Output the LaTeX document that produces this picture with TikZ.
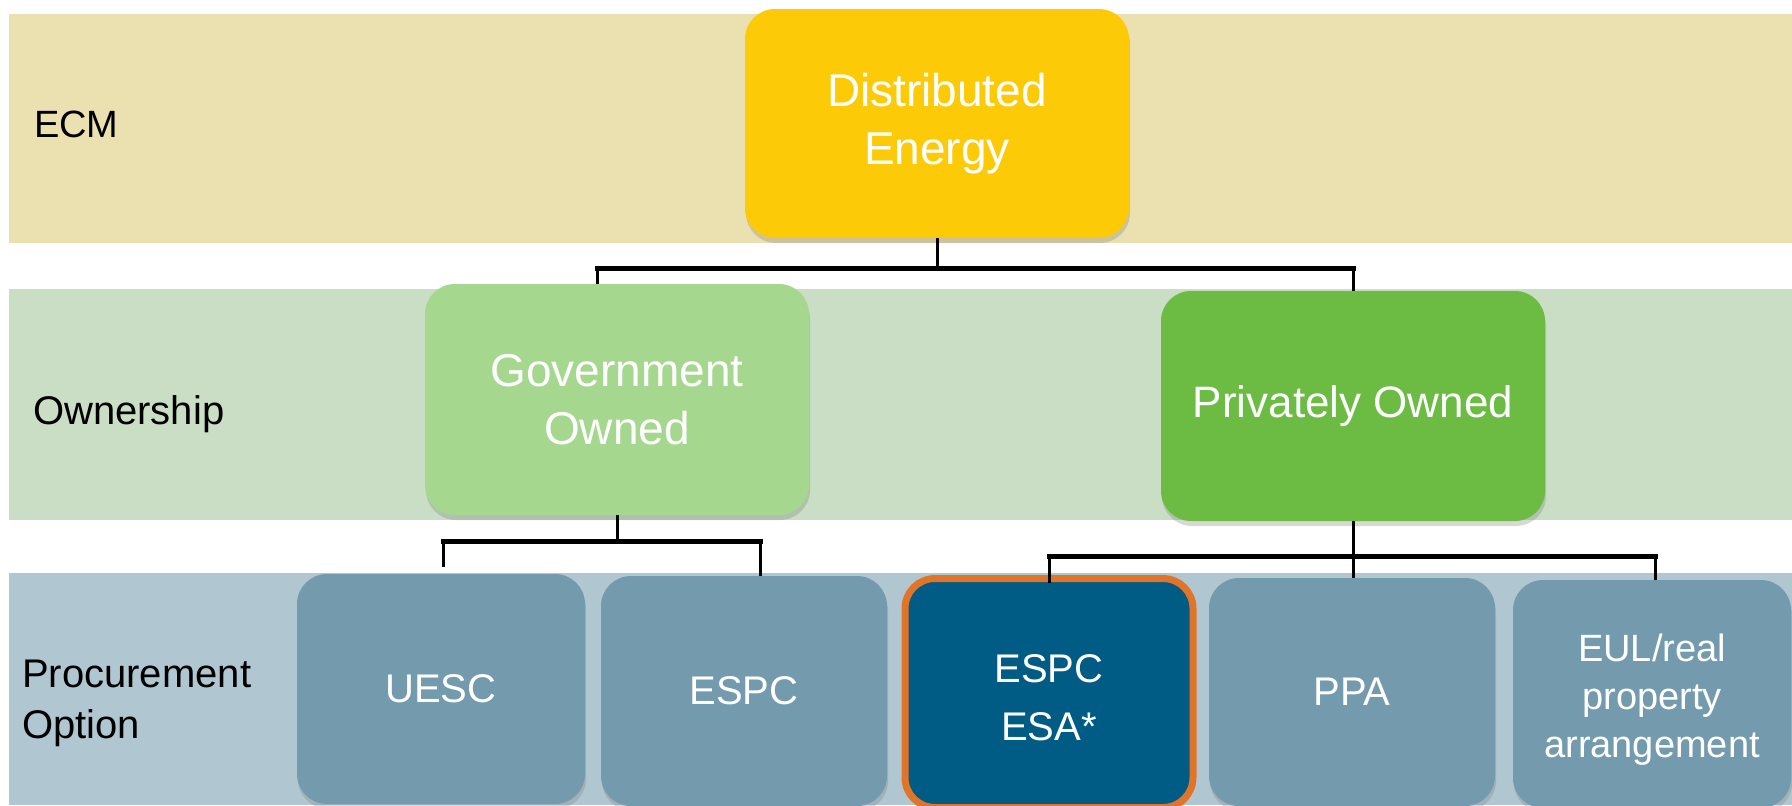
\documentclass[tikz,border=0pt]{standalone}
\usepackage{fontspec}
\setmainfont{Liberation Sans}
\usetikzlibrary{shadows}
\definecolor{bandA}{RGB}{235,224,176}
\definecolor{bandB}{RGB}{201,222,196}
\definecolor{bandC}{RGB}{176,199,209}
\definecolor{deY}{RGB}{253,202,8}
\definecolor{govG}{RGB}{166,215,143}
\definecolor{privG}{RGB}{108,188,68}
\definecolor{procB}{RGB}{116,155,173}
\definecolor{esaB}{RGB}{0,92,132}
\definecolor{esaO}{RGB}{224,116,40}
\begin{document}
\begin{tikzpicture}[x=1pt,y=-1pt,
  band/.style={fill=#1, draw=none},
  box/.style={rectangle, rounded corners=30pt, fill=#1, draw=none, text=white,
    align=center, inner sep=0pt,
    drop shadow={shadow xshift=1pt, shadow yshift=-5pt, opacity=0.3}},
  lbl/.style={anchor=base west, text=black, align=left, inner sep=0pt},
  stem/.style={line width=3pt, black},
  bar/.style={line width=5pt, black, line cap=rect},
  big/.style={font=\fontsize{46}{58}\selectfont},
  mid/.style={font=\fontsize{40}{58}\selectfont},
  small/.style={font=\fontsize{38}{48}\selectfont},
]
\useasboundingbox (0,0) rectangle (1792,806);
\fill[white] (0,0) rectangle (1792,806);
% bands
\path[band=bandA] (9,14) rectangle (1792,243);
\path[band=bandB] (9,289) rectangle (1792,520);
\path[band=bandC] (9,573) rectangle (1792,805);
% row labels
\node[lbl, font=\fontsize{38}{48}\selectfont] (lecm) at (34,137) {ECM};
\node[lbl, font=\fontsize{40}{48}\selectfont] (lown) at (33,424) {Ownership};
\node[lbl, font=\fontsize{40}{51}\selectfont] (lproc) at (22,738) {Procurement\\Option};
% boxes
\node[box=deY, big, minimum width=384pt, minimum height=229pt] (de) at (937,123.5) {Distributed\\Energy};
\node[box=govG, big, minimum width=384pt, minimum height=231pt] (gov) at (617,399.5) {Government\\Owned};
\node[box=privG, font=\fontsize{44}{58}\selectfont, minimum width=384pt, minimum height=230pt] (priv) at (1353,406) {Privately Owned};
\node[box=procB, mid, minimum width=288pt, minimum height=230pt] (uesc) at (441,689) {UESC};
\node[box=procB, mid, minimum width=286pt, minimum height=230pt] (espc) at (744,691) {ESPC};
\node[box=esaB, mid, draw=esaO, line width=7pt, minimum width=288pt, minimum height=229pt] (esa) at (1049,693)
  {\raisebox{-7pt}[\height][\depth]{\begin{tabular}{@{}c@{}}ESPC\\ESA*\end{tabular}}};
\node[box=procB, mid, minimum width=286pt, minimum height=228pt] (ppa) at (1352,692) {PPA};
\node[box=procB, small, minimum width=278pt, minimum height=228pt] (eul) at (1652,694)
  {\raisebox{-6pt}[\height][\depth]{\begin{tabular}{@{}c@{}}EUL/real\\property\\arrangement\end{tabular}}};
% connectors: top tree
\coordinate (b1l) at (597,268);
\coordinate (b1r) at (1353,268);
\draw[stem] (de.south) -- (de.south |- b1l);
\draw[bar] (b1l) -- (b1r);
\draw[stem] (b1l) -- (b1l |- gov.north);
\draw[stem] (b1r) -- (b1r |- priv.north);
% government tree
\coordinate (b2l) at (443,541);
\coordinate (b2r) at (760,541);
\coordinate (u1) at (443,567);
\draw[stem] (gov.south) -- (gov.south |- b2l);
\draw[bar] (b2l) -- (b2r);
\draw[stem] (b2l) -- (u1);
\draw[stem] (b2r) -- (b2r |- espc.north);
% private tree
\coordinate (b3l) at (1049,556);
\coordinate (b3r) at (1655,556);
\coordinate (e1) at (1049,583);
\draw[stem] (priv.south) -- (priv.south |- ppa.north);
\draw[bar] (b3l) -- (b3r);
\draw[stem] (b3l) -- (e1);
\draw[stem] (b3r) -- (b3r |- eul.north);
\end{tikzpicture}
\end{document}
